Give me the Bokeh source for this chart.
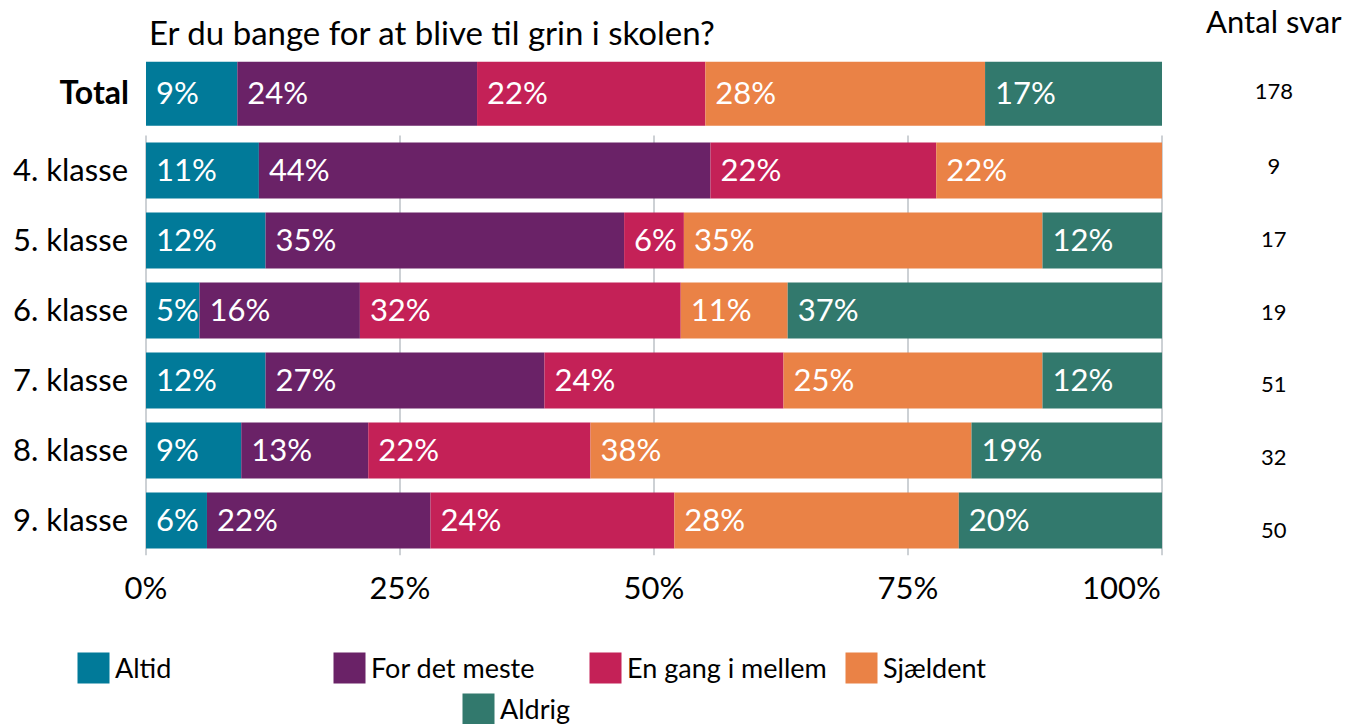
from bokeh.plotting import figure
from bokeh.layouts import column
from bokeh.models import (ColumnDataSource, Range1d, FixedTicker, Legend, LegendItem)
from bokeh.core.properties import value
from bokeh.embed import file_html
from bokeh.resources import INLINE

# ---------------- data ----------------
title_text = "Er du bange for at blive til grin i skolen?"
count_header = "Antal svar"
groups = ["Total", "4. klasse", "5. klasse", "6. klasse", "7. klasse", "8. klasse", "9. klasse"]
answers = ["Altid", "For det meste", "En gang i mellem", "Sjældent", "Aldrig"]
colors = ["#017A99", "#6A2267", "#C42157", "#EA8246", "#32796D"]
# number of answers per category and group
altid = [16, 1, 2, 1, 6, 3, 3]
for_det_meste = [42, 4, 6, 3, 14, 4, 11]
en_gang_i_mellem = [40, 2, 1, 6, 12, 7, 12]
sjaeldent = [49, 2, 6, 2, 13, 12, 14]
aldrig = [31, 0, 2, 7, 6, 6, 10]
antal_svar = [178, 9, 17, 19, 51, 32, 50]
grid_values = [0, 25, 50, 75, 100]
x_tick_labels = ["0%", "25%", "50%", "75%", "100%"]

# ---------------- layout ----------------
FONT = value("Lato")
W = 1345
TOTAL_ROW = -0.096
TOTAL_H = 0.914
BAR_H = 0.8
TITLE_Y = -0.98
HEADER_Y = -1.13
COUNT_X = 111.0
ypos = [TOTAL_ROW] + [float(i) for i in range(1, len(groups))]
heights = [TOTAL_H] + [BAR_H] * (len(groups) - 1)

p = figure(width=W, height=640, output_backend="svg", toolbar_location=None,
           x_range=Range1d(-14.32, 118.06), y_range=Range1d(6.5, -1.4286),
           y_axis_location=None,
           min_border_left=0, min_border_right=0, min_border_top=0,
           min_border_bottom=85)
p.outline_line_color = None
p.xgrid.visible = False
p.ygrid.visible = False

# grid lines only across the class rows
p.segment(x0=grid_values, x1=grid_values, y0=0.5, y1=6.5,
          line_color="#cdd1d5", line_width=2)

series = [altid, for_det_meste, en_gang_i_mellem, sjaeldent, aldrig]
left = [0.0] * len(groups)
renderers = []
lx, ly, lt = [], [], []
for name, col, counts in zip(answers, colors, series):
    pct = [c / n * 100 for c, n in zip(counts, antal_svar)]
    right = [a + b for a, b in zip(left, pct)]
    src = ColumnDataSource(dict(y=ypos, left=left, right=right, h=heights))
    r = p.hbar(y="y", left="left", right="right", height="h", source=src,
               fill_color=col, line_color=None)
    renderers.append(r)
    for i, v in enumerate(pct):
        if v > 0:
            lx.append(left[i]); ly.append(ypos[i]); lt.append(f"{int(v + 0.5)}%")
    left = right

# value labels inside the bars
p.text(x=lx, y=ly, text=lt, x_offset=10, y_offset=-2, text_color="white",
       text_font=FONT, text_font_size="31px", text_baseline="middle",
       text_align="left")

# group names
p.text(x=[0] * (len(groups) - 1), y=ypos[1:], text=groups[1:], x_offset=-18,
       y_offset=-2, text_align="right", text_baseline="middle", text_font=FONT,
       text_font_size="31px", text_color="black")
p.text(x=[0], y=[TOTAL_ROW], text=[groups[0]], x_offset=-17, y_offset=-2,
       text_align="right", text_baseline="middle", text_font=FONT,
       text_font_size="32px", text_font_style="bold", text_color="black")

# title and count column
p.text(x=[0], y=[TITLE_Y], text=[title_text], x_offset=3, text_align="left",
       text_baseline="alphabetic", text_font=FONT, text_font_size="33px",
       text_color="black")
p.text(x=[COUNT_X], y=[HEADER_Y], text=[count_header], text_align="center",
       text_baseline="alphabetic", text_font=FONT, text_font_size="31px",
       text_color="black")
count_offsets = [-2.0] + [-4.0 + 2.75 * k for k in range(len(groups) - 1)]
p.text(x=[COUNT_X] * len(groups), y=ypos, text=[str(n) for n in antal_svar],
       y_offset=count_offsets, text_align="center", text_baseline="middle",
       text_font=FONT, text_font_size="22px", text_color="black")

# x axis; the last label is right-aligned to the 100 % line in the original
tick_pos = grid_values[:-1] + [96.0]
xa = p.xaxis[0]
xa.ticker = FixedTicker(ticks=tick_pos)
xa.major_label_overrides = {t: s for t, s in zip(tick_pos, x_tick_labels)}
xa.axis_line_color = None
xa.major_tick_line_color = None
xa.minor_tick_line_color = None
xa.major_tick_out = 0
xa.major_label_text_font = "Lato"
xa.major_label_text_font_size = "31px"
xa.major_label_text_color = "black"
xa.major_label_standoff = 12

# ---------------- legend ----------------
LEG_H = 84
pl = figure(width=W, height=LEG_H, output_backend="svg", toolbar_location=None,
            x_range=Range1d(0, W), y_range=Range1d(0, LEG_H),
            x_axis_location=None, y_axis_location=None,
            min_border_left=0, min_border_right=0, min_border_top=0,
            min_border_bottom=0)
pl.outline_line_color = None
pl.xgrid.visible = False
pl.ygrid.visible = False
leg_r = [pl.hbar(y=[-10], left=[0], right=[0], height=1, fill_color=c, line_color=None)
         for c in colors]

common = dict(orientation="horizontal", glyph_width=40, glyph_height=39,
              label_standoff=2, label_width=214, spacing=0, padding=0, margin=0,
              border_line_color=None, background_fill_alpha=0,
              label_text_font="Lato", label_text_font_size="27px",
              label_text_color="black")
leg1 = Legend(items=[LegendItem(label=a, renderers=[r]) for a, r in
                     zip(answers[:4], leg_r[:4])], location=(73, 37), **common)
leg2 = Legend(items=[LegendItem(label=answers[4], renderers=[leg_r[4]])],
              location=(458, -4), **common)
pl.add_layout(leg1)
pl.add_layout(leg2)

layout = column(p, pl, spacing=0)
open("out.html", "w").write(file_html(layout, INLINE))
